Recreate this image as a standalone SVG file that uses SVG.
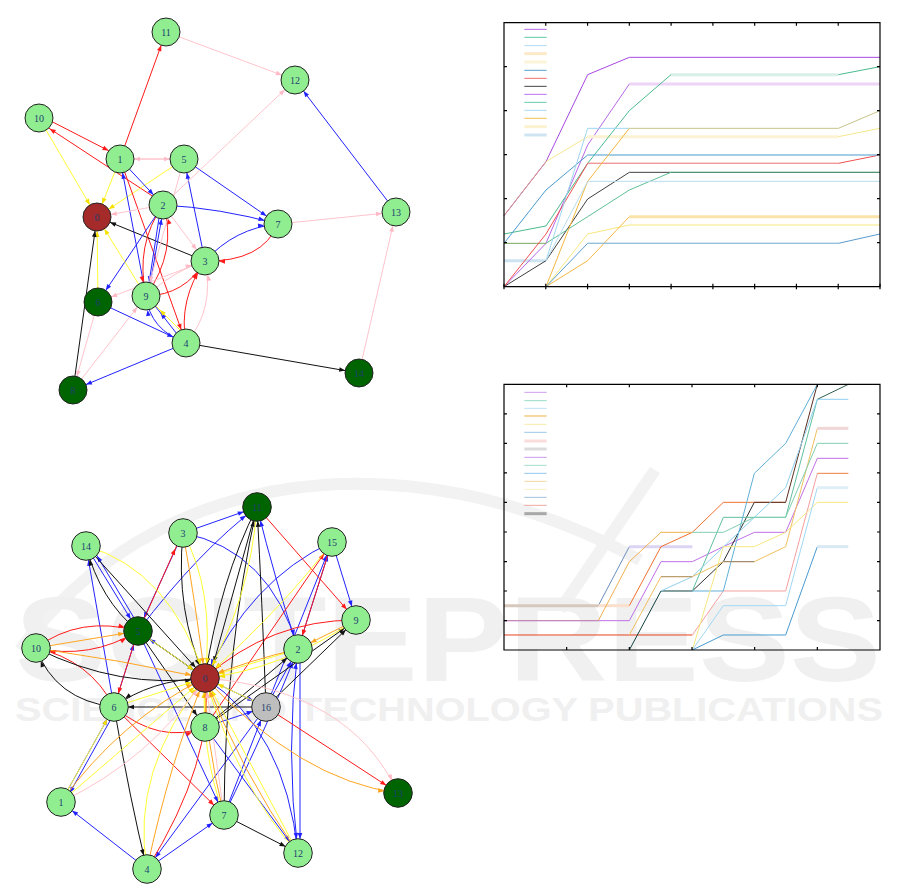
<svg xmlns="http://www.w3.org/2000/svg" width="901" height="896" viewBox="0 0 901 896">
<style>
.e{fill:none;stroke-width:1}
.r{stroke:#ff1a1a;marker-end:url(#mR)}
.b{stroke:#2222ff;marker-end:url(#mB)}
.k{stroke:#111;marker-end:url(#mK)}
.y{stroke:#ffff33;marker-end:url(#mY)}
.o{stroke:#ffa520;marker-end:url(#mO)}
.p{stroke:#ffc4cc;marker-end:url(#mP)}
.n{stroke:#222;stroke-width:1}
.lg{fill:#90ee90}.dg{fill:#006400}.dr{fill:#a52a2a}.gr{fill:#bebebe}
.t{font-family:"Liberation Serif",serif;font-size:10px;fill:#1f3f70;text-anchor:middle;dominant-baseline:central}
.s{fill:none;vector-effect:non-scaling-stroke;stroke-width:1;stroke-linejoin:round}
.w{fill:none;vector-effect:non-scaling-stroke;stroke-width:3}
.ax{fill:none;stroke:#000;vector-effect:non-scaling-stroke;stroke-width:1.2}
.wm{fill:#f0f0f0;font-family:"Liberation Sans",Arial,sans-serif;font-weight:bold}
</style>
<defs>
<marker id="mR" markerUnits="userSpaceOnUse" markerWidth="1" markerHeight="1" orient="auto" style="overflow:visible"><path d="M-14,0 L-20,-2.3 L-20,2.3 Z" fill="#ff1a1a"/></marker>
<marker id="mB" markerUnits="userSpaceOnUse" markerWidth="1" markerHeight="1" orient="auto" style="overflow:visible"><path d="M-14,0 L-20,-2.3 L-20,2.3 Z" fill="#2222ff"/></marker>
<marker id="mK" markerUnits="userSpaceOnUse" markerWidth="1" markerHeight="1" orient="auto" style="overflow:visible"><path d="M-14,0 L-20,-2.3 L-20,2.3 Z" fill="#111"/></marker>
<marker id="mY" markerUnits="userSpaceOnUse" markerWidth="1" markerHeight="1" orient="auto" style="overflow:visible"><path d="M-14,0 L-20,-2.3 L-20,2.3 Z" fill="#f5e000"/></marker>
<marker id="mO" markerUnits="userSpaceOnUse" markerWidth="1" markerHeight="1" orient="auto" style="overflow:visible"><path d="M-14,0 L-20,-2.3 L-20,2.3 Z" fill="#ffa520"/></marker>
<marker id="mP" markerUnits="userSpaceOnUse" markerWidth="1" markerHeight="1" orient="auto" style="overflow:visible"><path d="M-14,0 L-20,-2.3 L-20,2.3 Z" fill="#ffb8c4"/></marker>
</defs>
<rect width="901" height="896" fill="#fff"/>

<g id="watermark">
<path d="M20 650 C150 470 400 430 640 560" fill="none" stroke="#f2f2f2" stroke-width="12"/>
<path d="M655 470 L560 610" fill="none" stroke="#f2f2f2" stroke-width="12"/>
<text class="wm" x="15" y="681" font-size="120" textLength="866" lengthAdjust="spacingAndGlyphs">SCITEPRESS</text>
<text class="wm" x="15" y="721" font-size="34" textLength="868" lengthAdjust="spacingAndGlyphs">SCIENCE AND TECHNOLOGY PUBLICATIONS</text>
</g>

<g id="edges-top">
<path class="e r" d="M120 159 L166 32"/>
<path class="e p" d="M166 32 L295 80"/>
<path class="e b" d="M396 212 L295 80"/>
<path class="e p" d="M278 224 L396 212"/>
<path class="e p" d="M359 373 L396 212"/>
<path class="e k" d="M186 343 L359 373"/>
<path class="e r" d="M41 116 L121 157"/>
<path class="e r" d="M160 201 L38 121"/>
<path class="e y" d="M39 118 L97 217"/>
<path class="e y" d="M120 159 L97 217"/>
<path class="e y" d="M184 159 L97 217"/>
<path class="e p" d="M120 159 L184 159"/>
<path class="e p" d="M184 159 L120 159"/>
<path class="e b" d="M120 159 L163 205"/>
<path class="e b" d="M146 296 L120 159"/>
<path class="e r" d="M120 159 L186 343"/>
<path class="e b" d="M184 159 L278 224"/>
<path class="e b" d="M163 205 Q220 208 278 224"/>
<path class="e b" d="M205 261 L184 159"/>
<path class="e b" d="M205 261 Q235 228 278 224"/>
<path class="e r" d="M278 224 Q262 262 205 261"/>
<path class="e k" d="M205 261 L97 217"/>
<path class="e b" d="M161 205 L147 296"/>
<path class="e b" d="M148 296 L164 205"/>
<path class="e r" d="M163 205 Q135 245 146 296"/>
<path class="e r" d="M146 296 Q178 250 163 205"/>
<path class="e b" d="M163 205 L98 302"/>
<path class="e p" d="M163 205 L97 217"/>
<path class="e p" d="M163 205 L205 261"/>
<path class="e p" d="M163 205 L295 80"/>
<path class="e y" d="M146 296 L97 217"/>
<path class="e y" d="M98 302 L97 217"/>
<path class="e k" d="M73 390 L97 217"/>
<path class="e p" d="M73 390 L146 296"/>
<path class="e p" d="M98 302 L73 390"/>
<path class="e b" d="M98 302 L186 343"/>
<path class="e b" d="M186 343 L73 390"/>
<path class="e b" d="M186 343 Q150 330 146 296"/>
<path class="e b" d="M184 343 L152 302"/>
<path class="e y" d="M190 340 L150 300"/>
<path class="e r" d="M186 343 Q178 300 205 261"/>
<path class="e r" d="M146 296 Q185 295 205 261"/>
<path class="e p" d="M146 296 Q175 270 205 261"/>
<path class="e p" d="M205 261 L98 302"/>
<path class="e p" d="M186 343 Q215 310 205 261"/>
<path class="e p" d="M184 159 L146 296"/>
</g>

<g id="nodes-top">
<g id="t0"><circle class="n dr" cx="97" cy="217" r="14"/><text class="t" x="97" y="217">0</text></g>
<g id="t1"><circle class="n lg" cx="120" cy="159" r="14"/><text class="t" x="120" y="159">1</text></g>
<g id="t2"><circle class="n lg" cx="163" cy="205" r="14"/><text class="t" x="163" y="205">2</text></g>
<g id="t3"><circle class="n lg" cx="205" cy="261" r="14"/><text class="t" x="205" y="261">3</text></g>
<g id="t4"><circle class="n lg" cx="186" cy="343" r="14"/><text class="t" x="186" y="343">4</text></g>
<g id="t5"><circle class="n lg" cx="184" cy="159" r="14"/><text class="t" x="184" y="159">5</text></g>
<g id="t6"><circle class="n dg" cx="98" cy="302" r="14"/><text class="t" x="98" y="302">6</text></g>
<g id="t7"><circle class="n lg" cx="278" cy="224" r="14"/><text class="t" x="278" y="224">7</text></g>
<g id="t8"><circle class="n dg" cx="73" cy="390" r="14"/><text class="t" x="73" y="390">8</text></g>
<g id="t9"><circle class="n lg" cx="146" cy="296" r="14"/><text class="t" x="146" y="296">9</text></g>
<g id="t10"><circle class="n lg" cx="39" cy="118" r="14"/><text class="t" x="39" y="118">10</text></g>
<g id="t11"><circle class="n lg" cx="166" cy="32" r="14"/><text class="t" x="166" y="32">11</text></g>
<g id="t12"><circle class="n lg" cx="295" cy="80" r="14"/><text class="t" x="295" y="80">12</text></g>
<g id="t13"><circle class="n lg" cx="396" cy="212" r="14"/><text class="t" x="396" y="212">13</text></g>
<g id="t14"><circle class="n dg" cx="359" cy="373" r="14"/><text class="t" x="359" y="373">14</text></g>
</g>

<g id="edges-bottom">
<path class="e b" d="M183 533 L257 507"/>
<path class="e b" d="M138 631 Q200 550 257 507"/>
<path class="e b" d="M332 542 L356 620"/>
<path class="e b" d="M298 649 Q275 580 257 507"/>
<path class="e b" d="M183 533 Q270 550 298 649"/>
<path class="e b" d="M183 533 L138 631"/>
<path class="e b" d="M86 546 L138 631"/>
<path class="e b" d="M140 628 L90 544"/>
<path class="e b" d="M114 707 L86 546"/>
<path class="e b" d="M205 678 L138 631"/>
<path class="e b" d="M138 631 L224 815"/>
<path class="e b" d="M114 707 L138 631"/>
<path class="e b" d="M61 802 L114 707"/>
<path class="e b" d="M116 710 L63 805"/>
<path class="e b" d="M147 869 L61 802"/>
<path class="e b" d="M147 869 L224 815"/>
<path class="e b" d="M266 707 L147 869"/>
<path class="e b" d="M224 815 L266 707"/>
<path class="e b" d="M224 815 Q270 720 298 649"/>
<path class="e b" d="M205 727 L298 853"/>
<path class="e b" d="M205 678 Q285 730 298 853"/>
<path class="e b" d="M298 853 Q285 750 298 649"/>
<path class="e b" d="M300 649 L300 853"/>
<path class="e b" d="M298 649 L332 542"/>
<path class="e b" d="M266 707 L332 542"/>
<path class="e b" d="M332 542 Q250 580 205 678"/>
<path class="e b" d="M205 678 L266 707"/>
<path class="e b" d="M205 727 L266 707"/>
<path class="e b" d="M266 707 L298 649"/>
<path class="e r" d="M257 507 L356 620"/>
<path class="e r" d="M140 628 L181 536"/>
<path class="e r" d="M36 648 Q80 615 138 631"/>
<path class="e r" d="M36 648 Q90 660 138 631"/>
<path class="e r" d="M114 707 Q90 660 36 648"/>
<path class="e r" d="M138 631 L114 707"/>
<path class="e r" d="M114 707 Q160 745 205 727"/>
<path class="e r" d="M114 707 L224 815"/>
<path class="e r" d="M147 869 Q215 760 205 678"/>
<path class="e r" d="M332 542 L298 649"/>
<path class="e r" d="M356 620 Q270 620 205 678"/>
<path class="e r" d="M205 727 L332 542"/>
<path class="e r" d="M266 707 L398 793"/>
<path class="e k" d="M266 707 Q262 600 257 507"/>
<path class="e k" d="M257 507 Q220 580 205 678"/>
<path class="e k" d="M257 507 L210 676"/>
<path class="e k" d="M183 533 Q175 610 205 678"/>
<path class="e k" d="M86 546 L205 678"/>
<path class="e k" d="M138 631 Q100 600 86 546"/>
<path class="e k" d="M138 631 L205 678"/>
<path class="e k" d="M138 631 L205 727"/>
<path class="e k" d="M36 648 Q120 690 205 678"/>
<path class="e k" d="M114 707 Q55 700 36 648"/>
<path class="e k" d="M205 678 Q150 680 114 707"/>
<path class="e k" d="M266 707 L114 707"/>
<path class="e k" d="M114 707 Q130 800 147 869"/>
<path class="e k" d="M224 815 L298 853"/>
<path class="e k" d="M224 815 Q225 650 257 507"/>
<path class="e k" d="M266 707 L356 620"/>
<path class="e k" d="M205 727 L356 620"/>
<path class="e k" d="M205 727 L298 649"/>
<path class="e y" d="M257 507 Q250 600 205 678"/>
<path class="e y" d="M183 533 Q215 590 205 678"/>
<path class="e y" d="M86 546 Q170 570 205 678"/>
<path class="e y" d="M61 802 L205 678"/>
<path class="e y" d="M61 802 L114 707"/>
<path class="e y" d="M147 869 Q130 770 205 678"/>
<path class="e y" d="M224 815 Q200 750 205 678"/>
<path class="e y" d="M298 853 L205 678"/>
<path class="e y" d="M298 853 Q240 790 205 678"/>
<path class="e y" d="M298 649 L205 678"/>
<path class="e y" d="M356 620 Q280 670 205 678"/>
<path class="e y" d="M138 631 L205 678"/>
<path class="e y" d="M332 542 Q290 600 205 678"/>
<path class="e y" d="M266 707 L205 678"/>
<path class="e y" d="M205 727 L205 678"/>
<path class="e y" d="M114 707 L205 678"/>
<path class="e o" d="M183 533 Q195 600 205 678"/>
<path class="e o" d="M36 648 L138 631"/>
<path class="e o" d="M36 648 Q120 660 205 678"/>
<path class="e o" d="M61 802 Q120 720 205 678"/>
<path class="e o" d="M147 869 Q170 760 205 678"/>
<path class="e o" d="M298 853 Q240 770 205 678"/>
<path class="e o" d="M298 649 Q250 660 205 678"/>
<path class="e o" d="M356 620 L298 649"/>
<path class="e o" d="M205 678 Q300 780 398 793"/>
<path class="e o" d="M224 815 Q205 740 205 678"/>
<path class="e p" d="M61 802 Q150 760 205 678"/>
<path class="e p" d="M205 678 Q350 690 398 793"/>
<path class="e p" d="M224 815 L205 678"/>
</g>

<g id="nodes-bottom">
<g id="b0"><circle class="n dr" cx="205" cy="678" r="14.3"/><text class="t" x="205" y="678">0</text></g>
<g id="b1"><circle class="n lg" cx="61" cy="802" r="14.3"/><text class="t" x="61" y="802">1</text></g>
<g id="b2"><circle class="n lg" cx="298" cy="649" r="14.3"/><text class="t" x="298" y="649">2</text></g>
<g id="b3"><circle class="n lg" cx="183" cy="533" r="14.3"/><text class="t" x="183" y="533">3</text></g>
<g id="b4"><circle class="n lg" cx="147" cy="869" r="14.3"/><text class="t" x="147" y="869">4</text></g>
<g id="b5"><circle class="n dg" cx="138" cy="631" r="14.3"/><text class="t" x="138" y="631">5</text></g>
<g id="b6"><circle class="n lg" cx="114" cy="707" r="14.3"/><text class="t" x="114" y="707">6</text></g>
<g id="b7"><circle class="n lg" cx="224" cy="815" r="14.3"/><text class="t" x="224" y="815">7</text></g>
<g id="b8"><circle class="n lg" cx="205" cy="727" r="14.3"/><text class="t" x="205" y="727">8</text></g>
<g id="b9"><circle class="n lg" cx="356" cy="620" r="14.3"/><text class="t" x="356" y="620">9</text></g>
<g id="b10"><circle class="n lg" cx="36" cy="648" r="14.3"/><text class="t" x="36" y="648">10</text></g>
<g id="b11"><circle class="n dg" cx="257" cy="507" r="14.3"/><text class="t" x="257" y="507">11</text></g>
<g id="b12"><circle class="n lg" cx="298" cy="853" r="14.3"/><text class="t" x="298" y="853">12</text></g>
<g id="b13"><circle class="n dg" cx="398" cy="793" r="14.3"/><text class="t" x="398" y="793">13</text></g>
<g id="b14"><circle class="n lg" cx="86" cy="546" r="14.3"/><text class="t" x="86" y="546">14</text></g>
<g id="b15"><circle class="n lg" cx="332" cy="542" r="14.3"/><text class="t" x="332" y="542">15</text></g>
<g id="b16"><circle class="n gr" cx="266" cy="707" r="14.3"/><text class="t" x="266" y="707">16</text></g>
</g>

<g id="chart-top" transform="translate(490,10) scale(0.33333)">
<g id="legend-top">
<path class="s" stroke="#b868e8" d="M103 58H170"/>
<path class="s" stroke="#60c8a0" d="M103 82H170"/>
<path class="s" stroke="#b0dcf2" d="M103 107H170"/>
<path class="w" stroke="#fbe9c8" d="M103 131H170"/>
<path class="w" stroke="#fbf4d8" d="M103 156H170"/>
<path class="s" stroke="#5aa0d2" d="M103 181H170"/>
<path class="s" stroke="#f07070" d="M103 205H170"/>
<path class="s" stroke="#444" d="M103 229H170"/>
<path class="s" stroke="#c070f0" d="M103 253H170"/>
<path class="s" stroke="#6ccaa8" d="M103 277H170"/>
<path class="s" stroke="#a8dcf5" d="M103 301H170"/>
<path class="s" stroke="#f5c050" d="M103 325H170"/>
<path class="w" stroke="#fbf2d0" d="M103 350H170"/>
<path class="w" stroke="#cfe4f2" d="M103 375H170"/>
</g>
<g id="series-top">
<path class="w" stroke="#cde3f2" d="M42 752H168"/>
<path class="s" stroke="#b868e8" d="M42 830L168 700L293 405L418 222L1170 222"/>
<path class="w" stroke="#eed4f6" d="M418 222H1170"/>
<path class="s" stroke="#a848e0" stroke-width="1.4" d="M42 617L168 455L293 194L418 142L1170 142"/>
<path class="s" stroke="#f5e890" d="M168 455L293 380"/>
<path class="s" stroke="#d89a80" d="M42 617L168 455"/>
<path class="w" stroke="#fbf3d4" d="M293 380H1045"/>
<path class="s" stroke="#f5e88a" d="M1045 380L1170 355"/>
<path class="s" stroke="#4abb8e" d="M42 672L168 648L293 460L418 302L543 194L1045 194L1170 170"/>
<path class="w" stroke="#d7efe6" d="M543 194H1045"/>
<path class="s" stroke="#404040" d="M42 830L168 752L293 567L418 487L543 487"/>
<path class="s" stroke="#5fc096" d="M168 700L293 620L418 540L543 487L1170 487"/>
<path class="s" stroke="#4a8a6a" d="M543 487H1170"/>
<path class="s" stroke="#7aa860" d="M42 700H168"/>
<path class="s" stroke="#f05050" d="M42 830L168 672L293 460L1045 460L1170 435"/>
<path class="s" stroke="#f0a0a0" d="M293 460H1045"/>
<path class="s" stroke="#4a9ad0" d="M42 700L168 540L293 435L1170 435"/>
<path class="s" stroke="#9fd6f2" d="M168 752L293 355L418 355"/>
<path class="s" stroke="#f5b840" d="M168 830L293 514L418 355"/>
<path class="s" stroke="#c8c488" stroke-width="1.4" d="M418 355L1045 355L1170 302"/>
<path class="s" stroke="#b8dcef" d="M168 752L293 514L1170 514"/>
<path class="s" stroke="#f8e880" d="M168 830L293 672L418 645L1170 645"/>
<path class="s" stroke="#f5b848" d="M168 830L293 752L418 620"/>
<path class="w" stroke="#fbe2a8" d="M418 620H1170"/>
<path class="s" stroke="#5a9cd0" d="M168 830L293 700L1045 700L1170 672"/>
<path class="s" stroke="#9cc4dc" d="M293 700H1045"/>
</g>
<rect class="ax" x="42" y="38" width="1128" height="792"/>
<path class="ax" d="M42 830v-9M167.3 830v-9M292.7 830v-9M418 830v-9M543.3 830v-9M668.7 830v-9M794 830v-9M919.3 830v-9M1044.7 830v-9M1170 830v-9M42 830v8M167.3 830v8M292.7 830v8M418 830v8M543.3 830v8M668.7 830v8M794 830v8M919.3 830v8M1044.7 830v8M1170 830v8M167.3 38v9M292.7 38v9M418 38v9M543.3 38v9M668.7 38v9M794 38v9M919.3 38v9M1044.7 38v9M42 170h9M42 302h9M42 434h9M42 566h9M42 698h9M1170 170h-9M1170 302h-9M1170 434h-9M1170 566h-9M1170 698h-9"/>
</g>

<g id="chart-bottom" transform="translate(490,375) scale(0.33333)">
<g id="legend-bottom">
<path class="s" stroke="#d0a0f0" d="M103 52H170"/>
<path class="s" stroke="#98dcc4" d="M103 77H170"/>
<path class="s" stroke="#bce2f5" d="M103 100H170"/>
<path class="s" stroke="#eeb440" stroke-width="1.4" d="M103 123H170"/>
<path class="s" stroke="#f8eca8" d="M103 148H170"/>
<path class="s" stroke="#9cc8e6" d="M103 172H170"/>
<path class="w" stroke="#fbdcdc" d="M103 198H170"/>
<path class="w" stroke="#dcdcdc" d="M103 222H170"/>
<path class="s" stroke="#cc9cf0" d="M103 247H170"/>
<path class="s" stroke="#a4dec8" d="M103 271H170"/>
<path class="s" stroke="#90c8ee" d="M103 295H170"/>
<path class="s" stroke="#f0d8a0" d="M103 319H170"/>
<path class="s" stroke="#f8f0c0" d="M103 343H170"/>
<path class="s" stroke="#a4c0e0" d="M103 367H170"/>
<path class="s" stroke="#f0a8a0" d="M103 391H170"/>
<path class="w" stroke="#a8a8a8" d="M103 416H170"/>
</g>
<g id="series-bottom">
<path class="w" stroke="#d8c8bc" d="M42 692H325"/>
<path class="s" stroke="#6a8fc0" d="M325 692L418 515L513 515"/>
<path class="w" stroke="#dcd4f2" d="M418 515H607"/>
<path class="w" stroke="#fae0cc" d="M325 692H418"/>
<path class="s" stroke="#f07030" d="M418 692L513 515L607 472L700 382L887 382"/>
<path class="s" stroke="#c070e8" d="M42 737L418 737L513 560L607 560L700 515L793 472L887 472L982 250L1075 250"/>
<path class="s" stroke="#c08ab0" d="M42 737H325"/>
<path class="s" stroke="#f0b050" d="M325 737L418 560L513 472L607 472"/>
<path class="s" stroke="#e84020" stroke-width="1.3" d="M42 780H607"/>
<path class="s" stroke="#f5a0a0" d="M607 780L700 648L887 648L982 295"/>
<path class="s" stroke="#f08040" d="M982 295H1075"/>
<path class="s" stroke="#104040" stroke-width="1.4" d="M418 825L513 648L607 648"/>
<path class="s" stroke="#303030" d="M607 648L700 560L793 382"/>
<path class="s" stroke="#5a3020" d="M793 382H887L982 28"/>
<path class="s" stroke="#60c0a0" d="M607 648L700 427L887 427L982 73"/>
<path class="s" stroke="#306050" stroke-width="1.3" d="M982 73L1075 28"/>
<path class="s" stroke="#60b0d8" d="M607 648L700 648L793 295L887 205L982 28"/>
<path class="s" stroke="#90d0f0" d="M513 648L607 605L793 427L887 338L982 73L1075 73"/>
<path class="s" stroke="#f0c060" d="M418 780L513 605L607 605L700 560L793 560L887 515L982 160"/>
<path class="s" stroke="#b09870" d="M513 605H607"/>
<path class="s" stroke="#908070" d="M700 560H793"/>
<path class="w" stroke="#f0d6d6" d="M982 160H1075"/>
<path class="s" stroke="#f8e880" d="M607 825L700 515L793 515L887 472L982 382L1075 382"/>
<path class="s" stroke="#a0d8f5" d="M607 825L700 692L887 692L982 338"/>
<path class="w" stroke="#e0eef8" d="M982 338H1075"/>
<path class="s" stroke="#4a9ad0" d="M607 825L700 780L887 780L982 515"/>
<path class="w" stroke="#d8e8f5" d="M982 515H1075"/>
<path class="s" stroke="#80d0b0" d="M607 472L700 472L793 427L887 427L982 205L1075 205"/>
</g>
<rect class="ax" x="42" y="28" width="1128" height="797"/>
<path class="ax" d="M230 825v-9M418 825v-9M606 825v-9M794 825v-9M982 825v-9M230 28v9M418 28v9M606 28v9M794 28v9M982 28v9M42 116.6h9M42 205h9M42 293.8h9M42 382.4h9M42 471h9M42 559.6h9M42 648h9M42 736.8h9M1170 116.6h-9M1170 205h-9M1170 293.8h-9M1170 382.4h-9M1170 471h-9M1170 559.6h-9M1170 648h-9M1170 736.8h-9"/>
</g>
</svg>
